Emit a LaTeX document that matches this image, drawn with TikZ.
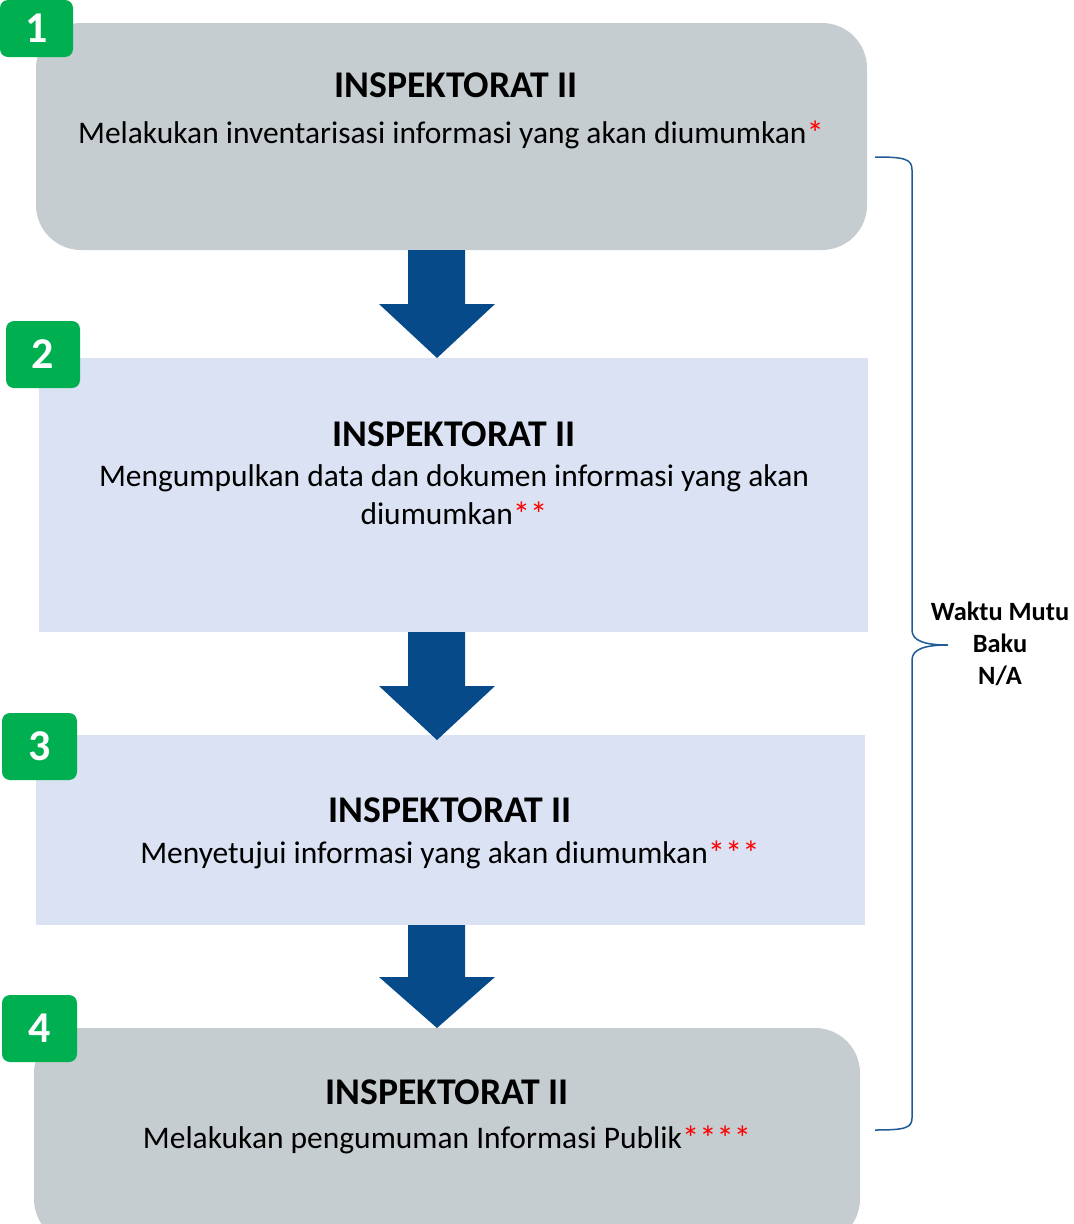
\documentclass[tikz,border=0pt]{standalone}
\usepackage{fontspec}
\setmainfont{Carlito}
\usetikzlibrary{calc}
\definecolor{boxgray}{HTML}{C6CDD1}
\definecolor{boxblue}{HTML}{DAE2F3}
\definecolor{arrowc}{HTML}{064A8A}
\definecolor{badgegreen}{HTML}{00B050}
\definecolor{bracec}{HTML}{1F5A96}
\definecolor{starred}{HTML}{FF0000}
\tikzset{
  box/.style={inner sep=0pt, outer sep=0pt},
  graybox/.style={box, fill=boxgray, rounded corners=45*0.75pt},
  bluebox/.style={box, fill=boxblue},
  badge/.style={fill=badgegreen, rounded corners=8*0.75pt, inner sep=0pt,
    text=white, font=\fontsize{33}{33}\selectfont\bfseries},
  title/.style={anchor=base, inner sep=0pt, font=\fontsize{28.3}{32}\selectfont\bfseries},
  body/.style={anchor=base, inner sep=0pt, font=\fontsize{23.6}{28.5}\selectfont, align=center},
  flow/.style={fill=arrowc},
}
\newcommand\st[1]{\textcolor{starred}{\raisebox{-1.5pt}{\fontsize{26}{26}\selectfont #1}}}
\begin{document}
\begin{tikzpicture}[x=0.75pt,y=-0.75pt]
\useasboundingbox (0,0) rectangle (1074,1224);
% boxes
\node[graybox, minimum width=831*0.75pt, minimum height=227*0.75pt] (b1) at (451.5,136.5) {};
\node[bluebox, minimum width=829*0.75pt, minimum height=274*0.75pt] (b2) at (453.5,495) {};
\node[bluebox, minimum width=829*0.75pt, minimum height=190*0.75pt] (b3) at (450.5,830) {};
\node[graybox, minimum width=826*0.75pt, minimum height=216*0.75pt] (b4) at (447,1136) {};
% arrows
\fill[flow] (408,250) -- (465,250) -- (465,304) -- (495,304) -- (437,358) -- (379,304) -- (408,304) -- cycle;
\fill[flow] (408,632) -- (465,632) -- (465,686) -- (495,686) -- (437,740) -- (379,686) -- (408,686) -- cycle;
\fill[flow] (408,925) -- (465,925) -- (465,977) -- (495,977) -- (437,1028) -- (379,977) -- (408,977) -- cycle;
% badges
\node[badge, minimum width=73*0.75pt, minimum height=57*0.75pt] (n1) at (36.5,28.5) {1};
\node[badge, minimum width=74*0.75pt, minimum height=67*0.75pt] (n2) at (43,354.5) {2};
\node[badge, minimum width=75*0.75pt, minimum height=67*0.75pt] (n3) at (39.5,746.5) {3};
\node[badge, minimum width=75*0.75pt, minimum height=67*0.75pt] (n4) at (39.5,1028.5) {4};
% texts
\node[title] (t1) at (456,97) {INSPEKTORAT II};
\node[body] (d1) at (451,143) {Melakukan inventarisasi informasi yang akan diumumkan\st{*}};
\node[title] (t2) at (454,446) {INSPEKTORAT II};
\node[body] (d2) at (454,486) {Mengumpulkan data dan dokumen informasi yang akan};
\node[body] (d2b) at (454,524) {diumumkan\st{**}};
\node[title] (t3) at (450,822) {INSPEKTORAT II};
\node[body] (d3) at (450,863) {Menyetujui informasi yang akan diumumkan\st{***}};
\node[title] (t4) at (447,1104) {INSPEKTORAT II};
\node[body] (d4) at (447,1148) {Melakukan pengumuman Informasi Publik\st{****}};
% brace
\coordinate (bt) at (875,157);
\coordinate (bm) at (948,645);
\coordinate (bb) at (875,1130);
\draw[bracec, line width=1.5*0.75pt] (bt) .. controls (905,157) and (912,159) .. (912,170)
  -- (912,630) .. controls (912,641) and (925,645) .. (bm)
  .. controls (925,645) and (912,649) .. (912,660)
  -- (912,1118) .. controls (912,1128) and (905,1130) .. (bb);
\node[anchor=center, align=center, inner sep=0pt,
  font=\fontsize{19.8}{24}\selectfont\bfseries] (wm) at (1000,644) {Waktu Mutu\\Baku\\N/A};
\end{tikzpicture}
\end{document}
